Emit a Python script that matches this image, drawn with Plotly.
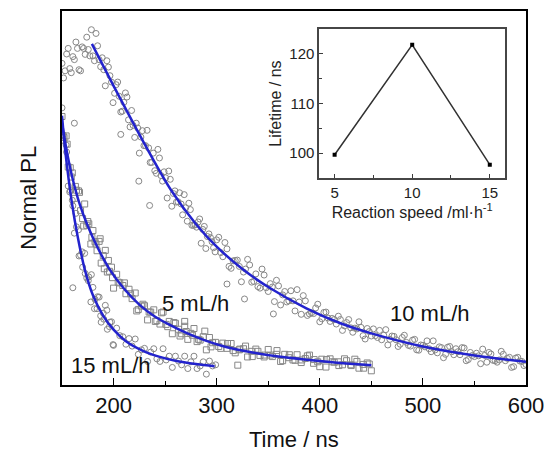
import plotly.graph_objects as go

# ---------------- data ----------------
# 10 mL/h decay (scatter points: time ns, normalized PL)
pts10 = [(150,0.86),(153,0.84),(156,0.90),(159,0.835),(162,0.87),(165,0.90),(168,0.84),(171,0.90),
         (174,0.93),(177,0.88),(180,0.88),(183,0.94),(186,0.87),(189,0.875),(192,0.80),(195,0.85),
         (198,0.81),(201,0.78),(204,0.81),(207,0.73),(210,0.756),(213,0.77),(216,0.69),(219,0.694),
         (222,0.70),(225,0.62),(228,0.68),(231,0.64),(234,0.634),(237,0.595),(240,0.573),(243,0.63),
         (246,0.56),(249,0.57),(252,0.50),(255,0.55),(258,0.512),(261,0.489),(264,0.514),(267,0.455),
         (270,0.474),(273,0.486),(276,0.427),(279,0.428),(282,0.436),(285,0.379),(288,0.424),(291,0.397),
         (294,0.394),(297,0.367),(300,0.388),(304,0.354),(308,0.381),(312,0.317),(316,0.332),(320,0.334),
         (324,0.276),(328,0.31),(332,0.321),(336,0.277),(340,0.263),(344,0.31),(348,0.26),(352,0.271),
         (356,0.223),(360,0.265),(364,0.241),(368,0.222),(372,0.252),(376,0.198),(380,0.222),(384,0.239),
         (388,0.186),(392,0.193),(396,0.206),(400,0.169),(404,0.194),(408,0.179),(412,0.178),(416,0.163),
         (420,0.175),(424,0.158),(428,0.175),(432,0.141),(436,0.15),(440,0.154),(444,0.123),(448,0.143),
         (452,0.15),(456,0.127),(460,0.121),(464,0.148),(468,0.122),(472,0.13),(476,0.103),(480,0.127),
         (484,0.114),(488,0.104),(492,0.122),(496,0.093),(500,0.106),(504,0.118),(508,0.089),(512,0.094),
         (516,0.102),(520,0.073),(524,0.101),(528,0.089),(532,0.097),(536,0.081),(540,0.099),(544,0.068),
         (548,0.079),(552,0.085),(556,0.057),(560,0.079),(564,0.087),(568,0.066),(572,0.061),(576,0.09),
         (580,0.065),(584,0.074),(588,0.049),(592,0.074),(596,0.063),(600,0.055),
         (151.5,0.821),(154.5,0.885),(157.5,0.846),(160.5,0.878),(163.5,0.917),(166.5,0.843),(169.5,0.904),
         (172.5,0.884),(175.5,0.897),(178.5,0.95),(181.5,0.867),(184.5,0.907),(187.5,0.851),(190.5,0.843),
         (193.5,0.867),(196.5,0.827),(199.5,0.755),(202.5,0.803),(205.5,0.772),(208.5,0.732),(211.5,0.781),
         (214.5,0.709),(217.5,0.734),(220.5,0.662),(223.5,0.687),(226.5,0.663),(229.5,0.64),(232.5,0.681),
         (235.5,0.595),(238.5,0.62),(241.5,0.566),(244.5,0.607),(247.5,0.545),(250.5,0.554),(253.5,0.572),
         (256.5,0.478),(259.5,0.519),(262.5,0.49),(265.5,0.484),(268.5,0.509),(271.5,0.438),(274.5,0.469),
         (277.5,0.427),(280.5,0.422),(283.5,0.444),(286.5,0.416),(289.5,0.365),(292.5,0.404),(295.5,0.383),
         (298.5,0.356),(302,0.395),(306,0.343),(310,0.364),(314,0.312),(318,0.333),(322,0.317),(326,0.302),
         (330,0.336),(334,0.275),(338,0.297),(342,0.259),(346,0.294),(350,0.25),(354,0.262),(358,0.28),
         (362,0.214),(366,0.25),(370,0.225),(374,0.225),(378,0.255),(382,0.189),(386,0.225),(390,0.19),
         (394,0.191),(398,0.216),
         (402,0.177),(406,0.195),(410,0.17),(414,0.175),(418,0.184),(422,0.146),(426,0.167),(430,0.153),
         (434,0.152),(438,0.169),(442,0.132),(446,0.151),(450,0.131),(454,0.132),(458,0.146),(462,0.133),
         (466,0.107),(470,0.131),(474,0.121),(478,0.109),(482,0.133),(486,0.106),(490,0.12),(494,0.094),
         (498,0.107),(502,0.102),(506,0.097),(510,0.118),(514,0.086),(518,0.1),(522,0.082),(526,0.103),
         (530,0.081),(534,0.089),(538,0.1),(542,0.065),(546,0.087),(550,0.076),(554,0.078),(558,0.096),
         (562,0.061),(566,0.083),(570,0.065),(574,0.067),(578,0.082),(582,0.071),(586,0.047),(590,0.072),
         (594,0.064),(598,0.052),
         (162,0.70),(207,0.67),(224.5,0.545),(235,0.48),(310,0.27),(327,0.23),(355,0.19)]
fit10_t = [179,200,230,256,280,300,325,350,387,420,450,500,550,600]
fit10_y = [0.912,0.80,0.645,0.52,0.43,0.37,0.31,0.262,0.205,0.165,0.138,0.103,0.079,0.062]

# 5 mL/h decay
pts5 = [(150,0.718),(152,0.662),(154,0.666),(156,0.583),(158,0.581),(160,0.567),(162,0.499),(164,0.521),
        (166,0.519),(168,0.466),(170,0.445),(172,0.484),(174,0.427),(176,0.431),(178,0.377),(180,0.413),
        (182,0.383),(184,0.359),(186,0.384),(188,0.326),(190,0.346),(192,0.36),(194,0.302),(196,0.304),
        (198,0.315),(200,0.259),(203,0.296),(206,0.273),(209,0.266),(212,0.244),(215,0.256),(218,0.231),
        (221,0.246),(224,0.202),(227,0.211),(230,0.212),(233,0.174),(236,0.195),(239,0.201),(242,0.172),
        (245,0.163),(248,0.195),(251,0.162),(254,0.17),(257,0.137),(260,0.165),(263,0.149),(266,0.137),
        (269,0.157),(272,0.122),(275,0.138),(278,0.151),(281,0.116),(284,0.12),(287,0.129),(290,0.094),
        (293,0.127),(296,0.113),(299,0.114),(302,0.103),(306,0.112),(310,0.098),(314,0.111),(318,0.086),
        (322,0.094),(326,0.097),(330,0.075),(334,0.09),(338,0.096),(342,0.079),(346,0.075),(350,0.095),
        (354,0.076),(358,0.082),(362,0.063),(366,0.082),(370,0.073),(374,0.067),(378,0.081),(382,0.06),
        (386,0.071),(390,0.08),(394,0.058),(398,0.062),(402,0.069),(406,0.048),(410,0.07),(414,0.061),
        (418,0.062),(422,0.054),(426,0.065),(430,0.054),(434,0.069),(438,0.045),(442,0.055),(446,0.059),
        (450,0.038),
        (151,0.666),(155,0.644),(159,0.556),(163,0.531),(167,0.515),(171,0.425),(175,0.437),(179,0.395),
        (183,0.377),(187,0.391),(191,0.311),(195,0.333),(199,0.287),(204.5,0.275),(210.5,0.273),
        (216.5,0.244),(222.5,0.198),(228.5,0.216),(234.5,0.195),(240.5,0.17),(246.5,0.193),(252.5,0.156),
        (258.5,0.167),(264.5,0.131),(270.5,0.143),(276.5,0.133),(282.5,0.122),(288.5,0.144),(294.5,0.102),
        (304,0.098),(310.5,0.111),(316,0.092),(322.5,0.096),(328,0.104),(334.5,0.076),(340,0.09),
        (346.5,0.08),(352,0.08),(358.5,0.092),(364,0.065),(370.5,0.081),(376,0.066),(382.5,0.067),
        (388,0.078),(394.5,0.068),(400,0.049),(406.5,0.068),(412,0.062),(418.5,0.052),(424,0.07),
        (430.5,0.052),(436,0.063),(442.5,0.045),(448,0.056),
        (320.5,0.053),(269,0.17)]
fit5_t = [150,155,160,167,175,185,196,210,225,240,255,270,290,310,335,360,390,420,450]
fit5_y = [0.70,0.62,0.555,0.485,0.425,0.365,0.31,0.258,0.215,0.183,0.160,0.140,0.118,0.101,
          0.087,0.076,0.067,0.059,0.053]

# 15 mL/h decay
pts15 = [(150,0.741),(152,0.653),(154,0.642),(156,0.532),(158,0.52),(160,0.494),(162,0.406),(164,0.423),
         (166,0.415),(168,0.347),(170,0.315),(172,0.352),(174,0.286),(176,0.289),(178,0.222),(180,0.261),
         (182,0.229),(184,0.204),(186,0.235),(188,0.168),(190,0.192),(192,0.213),(194,0.149),(196,0.156),
         (198,0.169),(200,0.106),(203,0.152),(206,0.132),(209,0.129),(212,0.109),(215,0.124),(218,0.104),
         (221,0.123),(224,0.082),(227,0.094),(230,0.098),(233,0.063),(236,0.088),(239,0.097),(242,0.07),
         (245,0.063),(248,0.097),(251,0.067),(254,0.077),(257,0.047),(260,0.077),(263,0.064),(266,0.054),
         (269,0.077),(272,0.044),(275,0.062),(278,0.077),(281,0.044),(284,0.051),(287,0.062),(290,0.029),
         (293,0.064),(296,0.051),(299,0.054),
         (151,0.669),(154.5,0.623),(157.5,0.516),(160.5,0.479),(163.5,0.459),(166.5,0.345),(169.5,0.356),
         (172.5,0.298),(175.5,0.279),(178.5,0.295),(181.5,0.204),(184.5,0.236),(187.5,0.185),(190.5,0.176),
         (193.5,0.2),(196.5,0.168),(199.5,0.108),(160.5,0.26)]
fit15_t = [150,153,156,160,165,172,180,190,200,212,228,244,260,280,298]
fit15_y = [0.72,0.63,0.56,0.48,0.40,0.31,0.24,0.185,0.148,0.117,0.092,0.076,0.065,0.056,0.050]

# curve labels
label_text = ["5 mL/h", "10 mL/h", "15 mL/h"]
label_t = [279, 507, 198]
label_y = [0.218, 0.19, 0.053]

# inset: lifetime vs reaction speed
speed = [5, 10, 15]
lifetime = [99.7, 121.8, 97.7]

# ---------------- figure ----------------
FONT = "Liberation Sans, Arial, sans-serif"
GRAY = "rgb(135,135,135)"
BLUE = "rgb(35,35,205)"

fig = go.Figure()

for pts, sym in [(pts10, "circle-open"), (pts5, "square-open"), (pts15, "circle-open")]:
    fig.add_trace(go.Scatter(
        x=[p[0] for p in pts], y=[p[1] for p in pts], mode="markers",
        marker=dict(symbol=sym, size=6, color=GRAY, line=dict(width=1, color=GRAY)),
        showlegend=False, xaxis="x", yaxis="y"))

for ft, fy in [(fit10_t, fit10_y), (fit5_t, fit5_y), (fit15_t, fit15_y)]:
    fig.add_trace(go.Scatter(
        x=ft, y=fy, mode="lines", line=dict(color=BLUE, width=2.5, shape="spline", smoothing=1.0),
        showlegend=False, xaxis="x", yaxis="y"))

fig.add_trace(go.Scatter(
    x=speed, y=lifetime, mode="lines+markers",
    line=dict(color="rgb(50,50,50)", width=1.5),
    marker=dict(symbol="square", size=4, color="black"),
    showlegend=False, xaxis="x2", yaxis="y2"))

for txt, tx, ty in zip(label_text, label_t, label_y):
    fig.add_annotation(x=tx, y=ty, xref="x", yref="y", text=txt, showarrow=False,
                       font=dict(family=FONT, size=22, color="#111"),
                       xanchor="center", yanchor="middle")

# axis titles of main plot
fig.add_annotation(x=0.5, y=-0.146, xref="paper", yref="paper", text="Time / ns",
                   showarrow=False, font=dict(family=FONT, size=22, color="#111"),
                   xanchor="center", yanchor="middle")
fig.add_annotation(x=-0.074, y=0.5, xref="paper", yref="paper", text="Normal PL",
                   showarrow=False, textangle=-90, font=dict(family=FONT, size=22, color="#111"),
                   xanchor="center", yanchor="middle")

fig.update_layout(
    width=553, height=452,
    margin=dict(l=62, r=20, t=9, b=67),
    paper_bgcolor="white", plot_bgcolor="white",
    font=dict(family=FONT, color="#111"),
    xaxis=dict(range=[150, 600], tickvals=[200, 300, 400, 500, 600], ticks="inside",
               ticklen=7, tickwidth=1.2, tickcolor="black",
               minor=dict(tickvals=[250, 350, 450, 550], ticks="inside", ticklen=4, tickcolor="black"),
               showline=True, linecolor="black", linewidth=2, mirror=True,
               showgrid=False, zeroline=False, tickfont=dict(size=22, family=FONT, color="#111")),
    yaxis=dict(range=[0, 1], showticklabels=False, ticks="", showline=True, linecolor="black",
               linewidth=2, mirror=True, showgrid=False, zeroline=False),
    xaxis2=dict(domain=[0.5541, 0.9554], anchor="y2", range=[4, 16], tickvals=[5, 10, 15],
                ticks="inside", ticklen=4, tickcolor="rgb(60,60,60)",
                minor=dict(tickvals=[7.5, 12.5], ticks="inside", ticklen=3, tickcolor="rgb(60,60,60)"),
                showline=True, linecolor="rgb(70,70,70)", linewidth=1.5, mirror=True,
                showgrid=False, zeroline=False, tickfont=dict(size=15, family=FONT, color="#222"),
                title=dict(text="Reaction speed /ml·h<sup>-1</sup>", standoff=2,
                           font=dict(size=16, family=FONT, color="#222"))),
    yaxis2=dict(domain=[0.5532, 0.9521], anchor="x2", range=[95, 125], tickvals=[100, 110, 120],
                ticks="inside", ticklen=4, tickcolor="rgb(60,60,60)",
                minor=dict(tickvals=[105, 115], ticks="inside", ticklen=3, tickcolor="rgb(60,60,60)"),
                showline=True, linecolor="rgb(70,70,70)", linewidth=1.5, mirror=True,
                showgrid=False, zeroline=False, tickfont=dict(size=15, family=FONT, color="#222"),
                title=dict(text="Lifetime / ns", standoff=4,
                           font=dict(size=16, family=FONT, color="#222"))),
)

fig.write_html("out.html")
